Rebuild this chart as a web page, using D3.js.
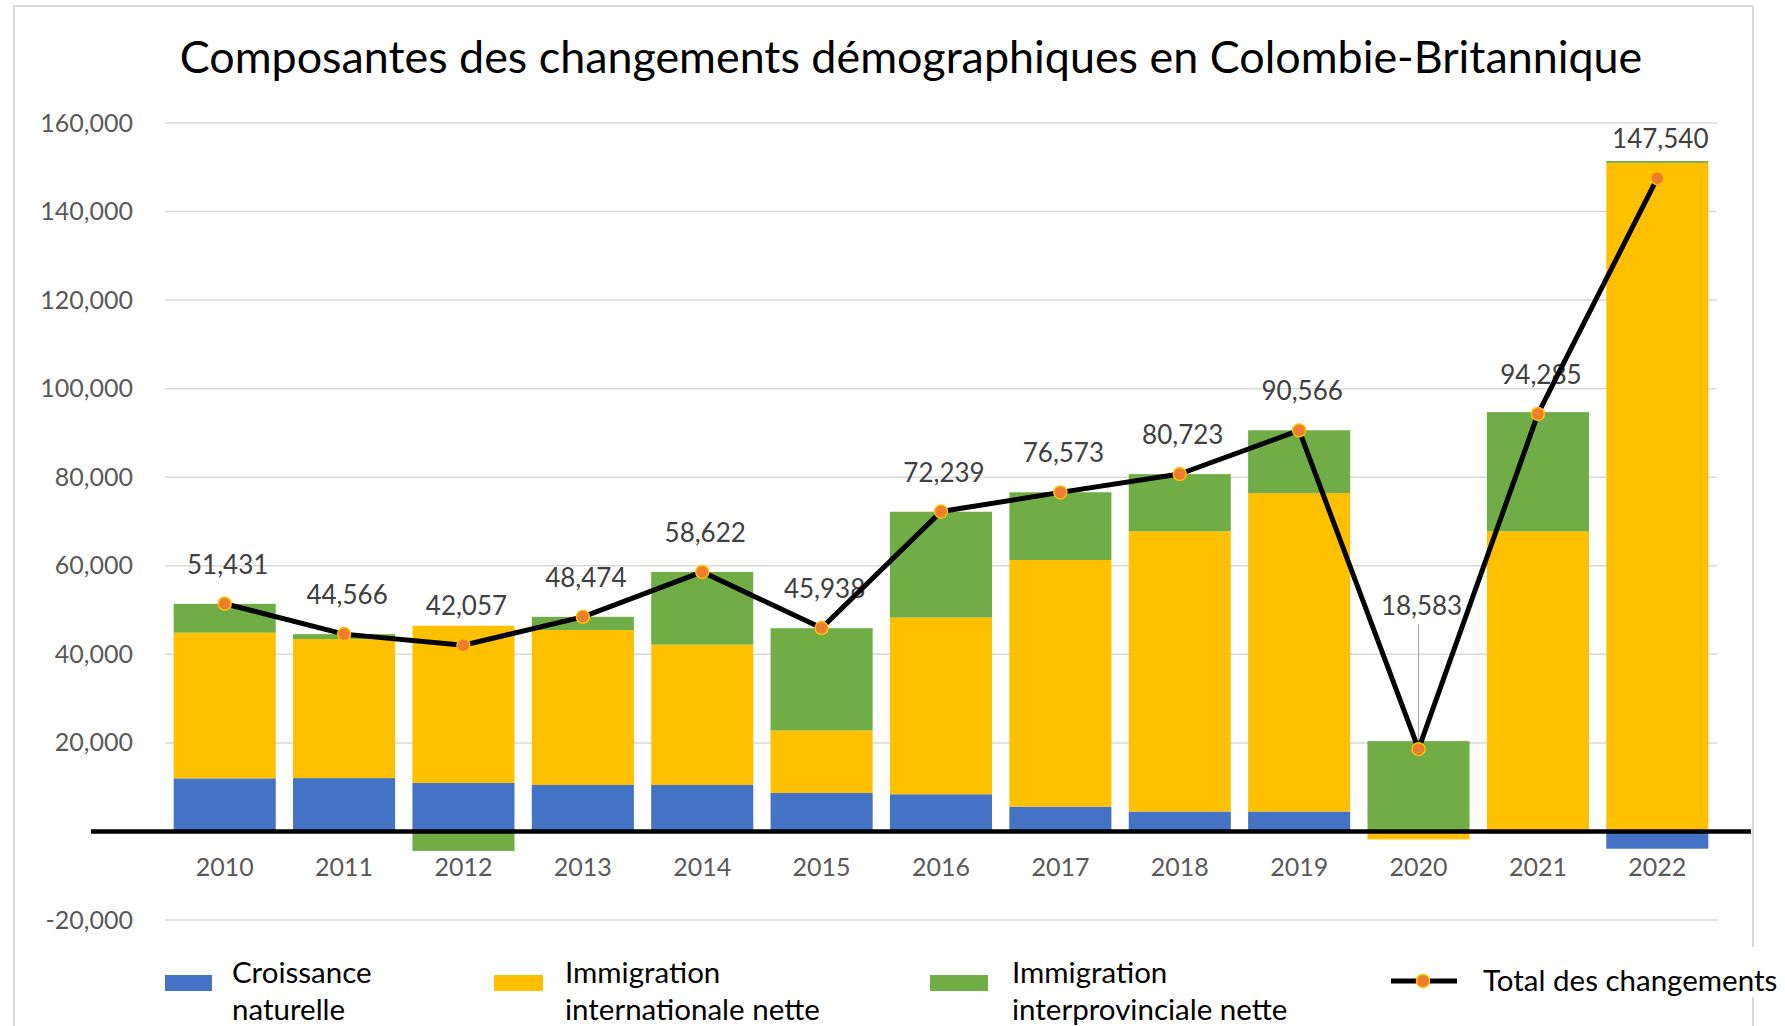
<!DOCTYPE html>
<html>
<head>
<meta charset="utf-8">
<script src="https://cdn.jsdelivr.net/npm/d3@7"></script>
<style>
  body { margin: 0; background: #fff; }
  text { font-family: Lato, "Open Sans", sans-serif; }
</style>
</head>
<body>
<div id="chart"></div>
<script>
// values
const years = ['2010','2011','2012','2013','2014','2015','2016','2017','2018','2019','2020','2021','2022'];
const natural = [12000, 12050, 10960, 10500, 10500, 8700, 8400, 5600, 4500, 4500, 200, -400, -3900];
const international = [32900, 31400, 35500, 35000, 31700, 14100, 39900, 55700, 63300, 71900, -1800, 67800, 151000];
const interprovincial = [6500, 1100, -4400, 2970, 16400, 23100, 23900, 15300, 12900, 14200, 20200, 26900, 400];
const total = [51431, 44566, 42057, 48474, 58622, 45938, 72239, 76573, 80723, 90566, 18583, 94285, 147540];
const yTicks = [-20000, 0, 20000, 40000, 60000, 80000, 100000, 120000, 140000, 160000];

const seriesKeys = ['natural', 'international', 'interprovincial'];
const colors = { natural: '#4472C4', international: '#FFC000', interprovincial: '#70AD47' };
const legendItems = [
  { key: 'natural', lines: ['Croissance', 'naturelle'], x: 165, w: 47, tx: 232 },
  { key: 'international', lines: ['Immigration', 'internationale nette'], x: 494, w: 49, tx: 565 },
  { key: 'interprovincial', lines: ['Immigration', 'interprovinciale nette'], x: 930, w: 58, tx: 1012 }
];

const W = 1785, H = 1026;
const svg = d3.select('#chart').append('svg').attr('width', W).attr('height', H);

// excel style: plain hyphen for negatives
const fmt = d => d3.format(',')(d).replace('\u2212', '-');

const rows = years.map((y, i) => ({
  year: y, natural: natural[i], international: international[i], interprovincial: interprovincial[i], total: total[i]
}));

const x = d3.scaleBand().domain(years).range([165, 1717]).paddingInner(0.145).paddingOuter(0.0725);
const y = d3.scaleLinear().domain([-20000, 160000]).range([920, 123]);

// frame
const frame = svg.append('g').attr('stroke', '#d9d9d9').attr('stroke-width', 2);
frame.append('line').attr('x1', 14).attr('x2', 14).attr('y1', 6).attr('y2', H);
frame.append('line').attr('x1', 14).attr('x2', 1753).attr('y1', 6).attr('y2', 6);
frame.append('line').attr('x1', 1753).attr('x2', 1753).attr('y1', 6).attr('y2', H);

// title
const title = svg.append('text')
  .attr('x', 911).attr('y', 73)
  .attr('text-anchor', 'middle')
  .attr('fill', '#000')
  .style('font-size', '40px')
  .text('Composantes des changements démographiques en Colombie-Britannique');
const tw = title.node().getComputedTextLength();
title.style('font-size', (40 * 1463 / tw) + 'px');

// grid + y labels
svg.append('g').selectAll('line').data(yTicks).join('line')
  .attr('x1', 165).attr('x2', 1717)
  .attr('y1', d => y(d)).attr('y2', d => y(d))
  .attr('stroke', '#d9d9d9').attr('stroke-width', 1.5);

svg.append('g').selectAll('text').data(yTicks.filter(d => d !== 0)).join('text')
  .attr('x', 133).attr('y', d => y(d) + 8.5)
  .attr('text-anchor', 'end')
  .attr('fill', '#595959')
  .style('font-size', '25px')
  .text(fmt);

// stacked bars
const stack = d3.stack().keys(seriesKeys).offset(d3.stackOffsetDiverging);
const layers = stack(rows);

svg.append('g').selectAll('g').data(layers).join('g')
  .attr('fill', d => colors[d.key])
  .selectAll('rect').data(d => d).join('rect')
  .attr('x', d => x(d.data.year))
  .attr('width', x.bandwidth())
  .attr('y', d => y(Math.max(d[0], d[1])))
  .attr('height', d => Math.abs(y(d[0]) - y(d[1])));

// zero line
svg.append('line')
  .attr('x1', 91).attr('x2', 1751)
  .attr('y1', y(0)).attr('y2', y(0))
  .attr('stroke', '#000').attr('stroke-width', 4.5);

// x labels
svg.append('g').selectAll('text').data(years).join('text')
  .attr('x', d => x(d) + x.bandwidth() / 2)
  .attr('y', 876)
  .attr('text-anchor', 'middle')
  .attr('fill', '#595959')
  .style('font-size', '25px')
  .text(d => d);

const cx = d => x(d.year) + x.bandwidth() / 2;

// data labels
const labels = svg.append('g');
rows.forEach(d => {
  const far = d.year === '2020';
  const ly = far ? 606 : y(d.total) - 39;
  labels.append('text')
    .attr('x', cx(d) + 3).attr('y', ly + 9)
    .attr('text-anchor', 'middle')
    .attr('fill', '#404040')
    .style('font-size', '26px')
    .text(fmt(d.total));
  if (far) {
    labels.append('line')
      .attr('x1', cx(d)).attr('x2', cx(d))
      .attr('y1', ly + 18).attr('y2', y(d.total) - 4)
      .attr('stroke', '#a6a6a6').attr('stroke-width', 1);
  }
});

// total line
const line = d3.line().x(cx).y(d => y(d.total));
svg.append('path').datum(rows)
  .attr('d', line)
  .attr('fill', 'none')
  .attr('stroke', '#000')
  .attr('stroke-width', 5)
  .attr('stroke-linejoin', 'round');

svg.append('g').selectAll('circle').data(rows).join('circle')
  .attr('cx', cx).attr('cy', d => y(d.total))
  .attr('r', 6.5)
  .attr('fill', '#ED7D31')
  .attr('stroke', '#FFC000').attr('stroke-width', 1.5);

// legend
const legend = svg.append('g');
legendItems.forEach(it => {
  legend.append('rect')
    .attr('x', it.x).attr('y', 975).attr('width', it.w).attr('height', 16)
    .attr('fill', colors[it.key]);
  it.lines.forEach((t, j) => {
    legend.append('text')
      .attr('x', it.tx).attr('y', 983 + j * 37)
      .attr('fill', '#000')
      .style('font-size', '29.5px')
      .text(t);
  });
});

legend.append('rect')
  .attr('x', 1385).attr('y', 947).attr('width', 400).attr('height', 50)
  .attr('fill', '#fff');
legend.append('line')
  .attr('x1', 1391).attr('x2', 1457).attr('y1', 981).attr('y2', 981)
  .attr('stroke', '#000').attr('stroke-width', 5);
legend.append('circle')
  .attr('cx', 1423).attr('cy', 981).attr('r', 6.5)
  .attr('fill', '#ED7D31').attr('stroke', '#FFC000').attr('stroke-width', 1.5);
legend.append('text')
  .attr('x', 1483).attr('y', 991)
  .attr('fill', '#000')
  .style('font-size', '29.5px')
  .text('Total des changements');
</script>
</body>
</html>
